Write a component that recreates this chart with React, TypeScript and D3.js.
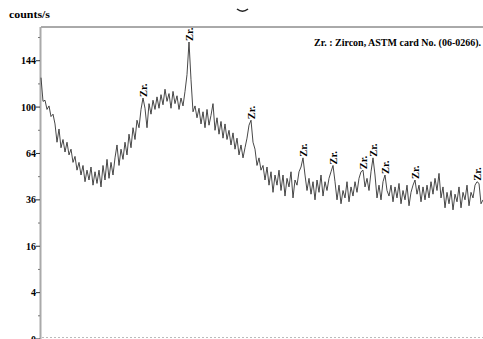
import React from "react";
import * as d3 from "d3";

const START_2THETA = 10;
const STEP_2THETA = 0.3;

const counts: number[] = [
  127, 105, 106, 98, 101, 92, 94, 86, 72, 82,
  68, 74, 65, 72, 63, 67, 58, 62, 53, 58,
  50, 56, 46, 53, 47, 55, 44, 52, 45, 53,
  43, 56, 47, 60, 48, 58, 50, 61, 70, 56,
  67, 60, 72, 63, 78, 68, 83, 74, 89, 83,
  98, 108, 99, 83, 103, 94, 106, 98, 109, 99,
  111, 102, 116, 105, 112, 99, 114, 103, 110, 98,
  108, 101, 114, 130, 164, 125, 96, 101, 91, 99,
  86, 96, 83, 98, 85, 93, 103, 81, 91, 78,
  88, 75, 86, 74, 81, 70, 79, 67, 75, 63,
  70, 61, 68, 75, 85, 89, 72, 67, 56, 61,
  53, 56, 47, 55, 44, 52, 40, 50, 44, 53,
  41, 50, 38, 48, 43, 52, 37, 47, 44, 52,
  55, 61, 50, 41, 48, 39, 46, 36, 47, 40,
  50, 38, 46, 41, 48, 52, 56, 46, 36, 44,
  34, 41, 37, 46, 35, 43, 38, 46, 40, 48,
  52, 53, 43, 48, 41, 52, 61, 50, 37, 44,
  36, 46, 50, 41, 38, 44, 35, 43, 37, 45,
  34, 41, 36, 44, 33, 40, 44, 47, 39, 44,
  35, 43, 36, 44, 37, 46, 39, 48, 41, 51,
  37, 43, 32, 40, 34, 41, 31, 39, 35, 43,
  32, 40, 36, 44, 33, 40, 37, 44, 46, 45,
  34, 36,
];

const zrPeaks: number[] = [25.3, 32.2, 41.5, 49.3, 53.8, 58.3, 59.8, 61.6, 66.1, 75.4];
const zrLabel = "Zr.";
const majorTicks: number[] = [0, 4, 16, 36, 64, 100, 144];
const minorTicks: number[] = [1, 9, 25, 49, 81, 121, 169];
const yLabel = "counts/s";
const legendText = "Zr. : Zircon, ASTM card No. (06-0266).";

const W = 483;
const H = 339;
const FONT = "'Liberation Serif', 'Times New Roman', serif";

export default function App() {
  const angles = counts.map((_, i) => START_2THETA + i * STEP_2THETA);
  const data = counts.map((c, i) => ({ t: angles[i], c }));
  const x = d3.scaleLinear().domain([START_2THETA, angles[angles.length - 1]]).range([41, 483]);
  const y = d3.scaleSqrt().domain([0, 181]).range([339, 27]);
  const line = d3
    .line<{ t: number; c: number }>()
    .x((d) => x(d.t))
    .y((d) => y(d.c));

  const peakPos = (p: number) => {
    const win = data.filter((d) => Math.abs(d.t - p) <= 0.45);
    const top = win.reduce((a, b) => (b.c > a.c ? b : a), win[0]);
    return { px: x(p), py: y(top.c) };
  };

  return (
    <svg
      width={W}
      height={H}
      style={{ position: "absolute", left: 0, top: 0, background: "#fff" }}
      fontFamily={FONT}
    >
      <rect x={0} y={0} width={W} height={H} fill="#fff" />
      <path d="M237,9 Q242.5,13.5 248,9" fill="none" stroke="#222" strokeWidth={1.6} />
      <text x={9} y={18} fontSize={11} fontWeight="bold" textLength={41} lengthAdjust="spacingAndGlyphs">
        {yLabel}
      </text>
      <line x1={41} x2={483} y1={y(181)} y2={y(181)} stroke="#555" strokeWidth={1} />
      <line x1={42} x2={483} y1={337.5} y2={337.5} stroke="#bbb" strokeWidth={1} strokeDasharray="2,2" />
      <line x1={40.5} x2={40.5} y1={y(181)} y2={H} stroke="#aaa" strokeWidth={2} />
      {majorTicks.map((t) => (
        <g key={"M" + t}>
          <line x1={36} x2={40} y1={y(t)} y2={y(t)} stroke="#333" strokeWidth={1} />
          <text x={36} y={y(t)} dy="0.35em" textAnchor="end" fontSize={10} fontWeight="bold">
            {t}
          </text>
        </g>
      ))}
      {minorTicks.map((t) => (
        <line key={"m" + t} x1={38} x2={40} y1={y(t)} y2={y(t)} stroke="#777" strokeWidth={1} />
      ))}
      <text
        x={481}
        y={46}
        textAnchor="end"
        fontSize={10}
        fontWeight="bold"
        textLength={167}
        lengthAdjust="spacingAndGlyphs"
      >
        {legendText}
      </text>
      <path d={line(data) || ""} fill="none" stroke="#333" strokeWidth={0.9} strokeLinejoin="round" />
      {zrPeaks.map((p, i) => {
        const { px, py } = peakPos(p);
        return (
          <text
            key={"z" + i}
            transform={`translate(${px},${py - 1}) rotate(-90)`}
            dy="0.35em"
            fontSize={10.5}
            fontWeight="bold"
          >
            {zrLabel}
          </text>
        );
      })}
    </svg>
  );
}
